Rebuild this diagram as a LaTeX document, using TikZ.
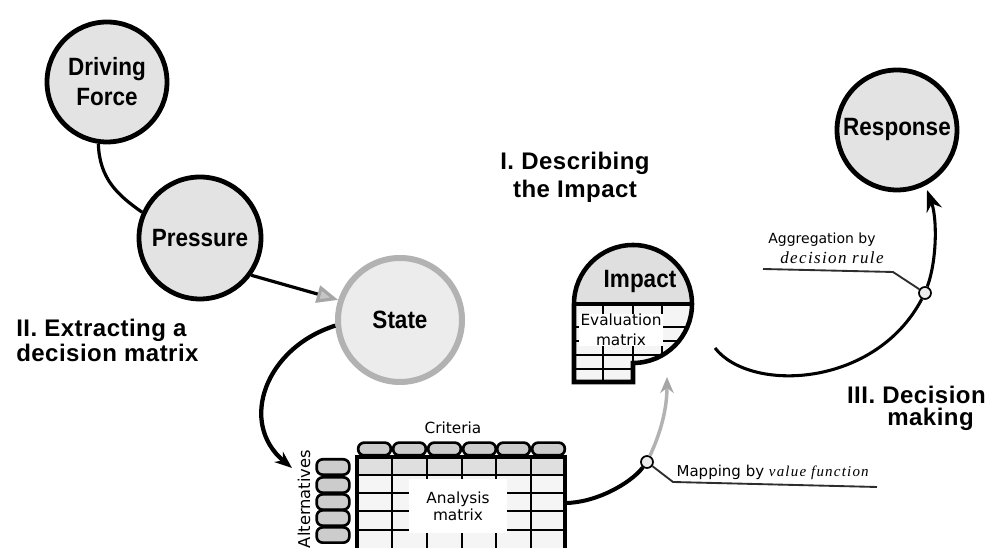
\documentclass[tikz,border=0pt]{standalone}
\usepackage{fontspec}
\setmainfont{Liberation Sans}
\newfontfamily\phasefont{Liberation Sans}[LetterSpace=2]
\newfontfamily\circfont{Liberation Sans}[FakeStretch=0.9]
\newfontfamily\vfont{DejaVu Sans}
\newfontfamily\serfont{Liberation Serif}[LetterSpace=8]
\usetikzlibrary{arrows.meta}
\tikzset{
  bubble/.style={circle, draw=black, line width=3.6pt, fill=gray!22, minimum size=#1, inner sep=0pt,
    font=\circfont\bfseries\fontsize{18.75}{22.5}\selectfont, align=center},
  phase/.style={font=\phasefont\bfseries\fontsize{18}{#1}\selectfont, inner sep=0pt},
  small/.style={font=\vfont\fontsize{11.25}{12.75}\selectfont, inner sep=1pt},
  conn/.style={draw=black, line width=2.4pt},
  conn2/.style={draw=black, line width=3pt},
  dot/.style={circle, draw=black, line width=1.3pt, fill=gray!15, minimum size=9pt, inner sep=0pt},
  lbl/.style={draw=gray!35!black, line width=1.4pt},
  pill/.style={rounded corners=4.5pt, draw=black, line width=2pt, fill=gray!40, minimum width=#1, inner sep=0pt},
  gridthick/.style={line width=3pt},
  gridthin/.style={line width=2.2pt}
}
\begin{document}
\begin{tikzpicture}[x=0.75pt,y=0.75pt]
\useasboundingbox (0,0) rectangle (990,548);

% ---------- DPSIR bubbles ----------
\node[bubble=90pt] (df) at (107,466) {Driving\\Force};
\node[bubble=91.5pt] (pr) at (200,310) {Pressure};
\node[bubble=93pt, draw=gray!60, line width=4.5pt, fill=gray!15] (st) at (400,228) {State};
\node[bubble=90pt] (rs) at (897,418) {Response};

\draw[conn] (df.-98) .. controls +(-88:35) and +(145:30) .. (pr.156);
\draw[conn, -{Triangle[length=16pt,width=13pt,color=gray!70,fill=gray!45]}] (pr.-36) -- (st.162);

% ---------- Analysis matrix ----------
\fill[gray!8] (357,0) rectangle (565,91);
\fill[gray!25] (357,73) rectangle (565,91);
\foreach \y in {73,55,37,18} \draw[gridthin] (357,\y) -- (565,\y);
\foreach \x in {392,427,462,496,531} \draw[gridthin] (\x,91) -- (\x,0);
\draw[gridthick] (357,0) -- (357,91) -- (565,91) -- (565,0);
\node[small, fill=white, minimum width=73pt, minimum height=40pt, align=center,
      font=\vfont\fontsize{11.5}{12.75}\selectfont] (am) at (458,42) {Analysis\\matrix};

\foreach \i/\x in {1/374.5,2/409.5,3/444.5,4/479.5,5/513.5,6/548.5}
  \node[pill=24.5pt, minimum height=9.5pt] (c\i) at (\x,99) {};
\foreach \i/\y in {1/81,2/63,3/46,4/30,5/13}
  \node[pill=24.5pt, minimum height=11.5pt] (r\i) at (333,\y) {};
\node[small, font=\vfont\fontsize{11.5}{12.75}\selectfont] (crit) at (453,120) {Criteria};
\node[small, rotate=90, font=\vfont\fontsize{12.25}{13}\selectfont] (alt) at (304,49) {Alternatives};

\coordinate (altin) at (292,80);
\draw[conn2, line width=3.2pt, -{Stealth[length=13pt,width=10pt]}] (st.185) .. controls (265,200) and (238,125) .. (altin);

% ---------- Impact ----------
\begin{scope}
  \clip (574,244) arc[start angle=180,end angle=-90,radius=59] -- (633,166) -- (574,166) -- cycle;
  \fill[gray!8] (560,150) rectangle (700,244);
  \fill[gray!25] (560,244) rectangle (700,310);
  \foreach \y in {221,207,193,179} \draw[line width=2pt] (570,\y) -- (700,\y);
  \foreach \x in {603,633,662} \draw[line width=2pt] (\x,244) -- (\x,160);
\end{scope}
\draw[line width=3.4pt] (574,244) arc[start angle=180,end angle=-90,radius=59] -- (633,166) -- (574,166) -- cycle;
\draw[line width=3pt] (574,244) -- (692,244);
\node[circle, minimum size=88.5pt, inner sep=0pt] (imp) at (633,244) {};
\node[font=\circfont\bfseries\fontsize{18.75}{18}\selectfont] (imt) at (640,266) {Impact};
\node[small, fill=white, inner xsep=1pt, inner ysep=0pt, align=center,
      font=\vfont\fontsize{11.5}{15}\selectfont] (ev) at (621,218) {Evaluation\\matrix};

% mapping connector
\coordinate (mxe) at (565,45);
\coordinate (impin) at (667,171);
\node[dot] (mp) at (647,86) {};
\draw[conn2] (mxe) .. controls (595,45) and (630,64) .. (mp);
\draw[gray!60, line width=2.6pt, -{Stealth[length=12pt,width=10pt,color=gray!70,fill=gray!40]}]
  (mp) .. controls +(65:35) and +(-90:30) .. (impin);
\coordinate (ml1) at (673,66);
\coordinate (ml2) at (877,61);
\draw[lbl] (mp) -- (ml1) -- (ml2);
\node[small, anchor=base west] (mt) at (675,71) {Mapping by {\serfont\itshape value function}};

% aggregation connector
\coordinate (agst) at (715,200);
\coordinate (respin) at (927,358);
\node[dot] (ag) at (925,255) {};
\draw[conn2, line width=2.3pt] (agst) .. controls (750,155) and (875,160) .. (ag);
\draw[conn2, line width=2.3pt, -{Stealth[length=16pt,width=12pt]}] (ag) .. controls +(70:35) and +(-70:30) .. (respin);
\coordinate (al1) at (893,276);
\coordinate (al2) at (763,279);
\draw[lbl] (ag) -- (al1) -- (al2);
\node[small, font=\vfont\fontsize{10.5}{12}\selectfont] (at) at (822,308) {Aggregation by};
\node[anchor=base, inner sep=0pt, font=\serfont\itshape\fontsize{12.75}{14}\selectfont] (dr) at (832,284) {decision rule};

% ---------- phase labels ----------
\node[phase=21pt, align=center] (l1) at (575,371) {I. Describing\\the Impact};
\node[phase=18.75pt, align=left, anchor=west] (l2) at (16,208) {II. Extracting a\\decision matrix};
\node[phase=16.5pt, align=right, anchor=east] (l3) at (986,140) {III. Decision\\making\kern 9pt};
\end{tikzpicture}
\end{document}
